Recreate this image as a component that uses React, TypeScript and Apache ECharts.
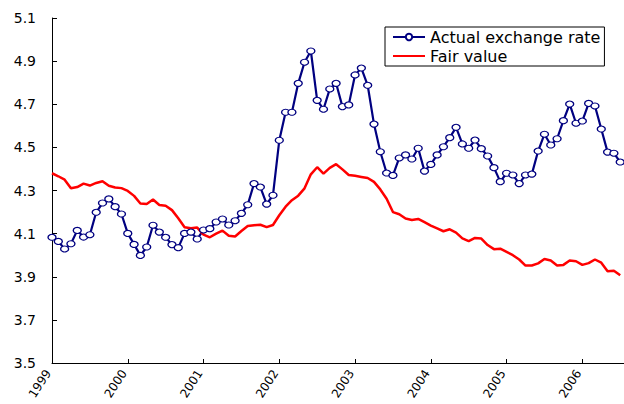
import React, { useEffect, useRef } from "react";
import * as echarts from "echarts";

// Monthly data, January 1999 to July 2006
const yearLabels = ["1999", "2000", "2001", "2002", "2003", "2004", "2005", "2006"];
const yTicks = [3.5, 3.7, 3.9, 4.1, 4.3, 4.5, 4.7, 4.9, 5.1];

const actualRate = [
  4.083, 4.064, 4.029, 4.053, 4.115, 4.084, 4.095, 4.199, 4.242, 4.261,
  4.225, 4.191, 4.101, 4.05, 3.999, 4.038, 4.139, 4.107, 4.083, 4.049,
  4.035, 4.101, 4.107, 4.075, 4.117, 4.123, 4.154, 4.168, 4.14, 4.16,
  4.194, 4.234, 4.332, 4.316, 4.237, 4.278, 4.533, 4.663, 4.663, 4.797,
  4.895, 4.947, 4.718, 4.677, 4.771, 4.797, 4.689, 4.697, 4.836, 4.868,
  4.788, 4.608, 4.48, 4.381, 4.37, 4.451, 4.465, 4.446, 4.496, 4.39,
  4.421, 4.465, 4.503, 4.545, 4.593, 4.516, 4.496, 4.534, 4.494, 4.46,
  4.406, 4.341, 4.38, 4.372, 4.332, 4.372, 4.376, 4.483, 4.561, 4.511,
  4.54, 4.624, 4.701, 4.612, 4.622, 4.704, 4.692, 4.585, 4.478, 4.473,
  4.432,
];

const fairValue = [
  4.38, 4.366, 4.35, 4.31, 4.316, 4.332, 4.323, 4.335, 4.343, 4.322,
  4.314, 4.311, 4.298, 4.275, 4.24, 4.237, 4.258, 4.233, 4.229, 4.209,
  4.171, 4.13, 4.125, 4.128, 4.095, 4.083, 4.1, 4.114, 4.09, 4.087,
  4.112, 4.135, 4.139, 4.141, 4.13, 4.14, 4.185, 4.225, 4.255, 4.276,
  4.31, 4.375, 4.408, 4.378, 4.405, 4.422, 4.398, 4.372, 4.368, 4.363,
  4.358, 4.34, 4.305, 4.262, 4.2, 4.19, 4.17, 4.163, 4.168, 4.153,
  4.137, 4.124, 4.111, 4.12, 4.105, 4.078, 4.065, 4.08, 4.077, 4.047,
  4.028, 4.03, 4.015, 4.0, 3.98, 3.952, 3.952, 3.962, 3.982, 3.975,
  3.952, 3.955, 3.975, 3.972, 3.955, 3.963, 3.98, 3.965, 3.925, 3.928,
  3.907,
];

const seriesNames = ["Actual exchange rate", "Fair value"];

export default function App() {
  const ref = useRef<HTMLDivElement>(null);

  useEffect(() => {
    if (!ref.current) return;
    const chart = echarts.init(ref.current, null, { renderer: "svg" });
    const font = "DejaVu Sans";
    chart.setOption({
      animation: false,
      backgroundColor: "#ffffff",
      grid: { left: 52, right: 0, top: 18, bottom: 41, containLabel: false, outerBoundsMode: "none" },
      legend: {
        orient: "vertical",
        left: 385,
        top: 27,
        data: seriesNames,
        borderColor: "#000",
        borderWidth: 1,
        padding: [1, 4, 1, 7],
        itemGap: 1,
        itemWidth: 32,
        itemHeight: 8,
        textStyle: { fontFamily: font, fontSize: 16, color: "#000", lineHeight: 18 },
      },
      xAxis: {
        type: "value",
        min: 0,
        max: 90.6,
        interval: 12,
        axisLine: { lineStyle: { color: "#000", width: 1 } },
        axisTick: { inside: true, length: 4, lineStyle: { color: "#000" } },
        splitLine: { show: false },
        axisLabel: {
          rotate: 57,
          margin: 2,
          fontFamily: font,
          fontSize: 12,
          color: "#000",
          hideOverlap: false,
          formatter: (v: number) => {
            const k = Math.round(v / 12);
            return Math.abs(v - k * 12) < 1e-6 && yearLabels[k] ? "{y|" + yearLabels[k] + "}{s|}" : "";
          },
          rich: {
            y: { fontFamily: font, fontSize: 12, color: "#000" },
            s: { width: 7 },
          },
        },
      },
      yAxis: {
        type: "value",
        min: yTicks[0],
        max: yTicks[yTicks.length - 1],
        interval: 0.2,
        axisLine: { show: true, lineStyle: { color: "#000", width: 1 } },
        axisTick: { show: true, inside: true, length: 5, lineStyle: { color: "#000" } },
        splitLine: { show: false },
        axisLabel: {
          margin: 16,
          fontFamily: font,
          fontSize: 14,
          color: "#000",
          formatter: (v: number) => v.toFixed(1),
        },
      },
      series: [
        {
          name: seriesNames[0],
          type: "line",
          data: actualRate.map((v, i) => [i, v]),
          symbol: "circle",
          symbolSize: [8, 6],
          showAllSymbol: true,
          lineStyle: { color: "#000080", width: 2.2 },
          itemStyle: { color: "#ffffff", borderColor: "#000080", borderWidth: 1.2 },
        },
        {
          name: seriesNames[1],
          type: "line",
          data: fairValue.map((v, i) => [i, v]),
          symbol: "none",
          lineStyle: { color: "#ff0000", width: 2.5 },
          itemStyle: { color: "rgba(0,0,0,0)", borderWidth: 0 },
        },
      ],
    });
    return () => chart.dispose();
  }, []);

  return <div ref={ref} style={{ width: 624, height: 404, position: "absolute", left: 0, top: 0 }} />;
}
